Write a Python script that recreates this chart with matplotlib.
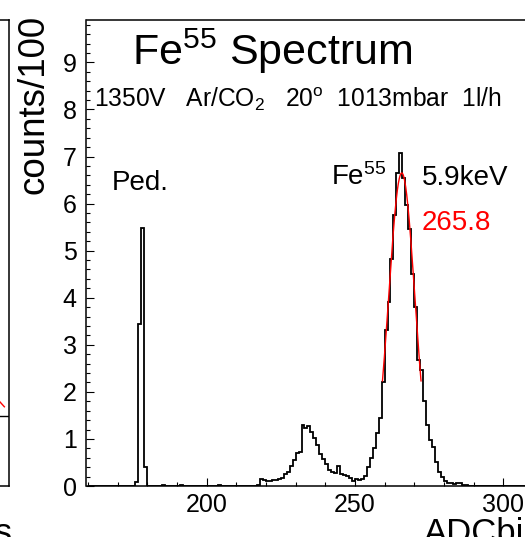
import numpy as np
import matplotlib
matplotlib.use("Agg")
import matplotlib.pyplot as plt
from matplotlib.ticker import MultipleLocator

plt.rcParams['font.family'] = ['Liberation Sans', 'DejaVu Sans']
plt.rcParams['mathtext.default'] = 'regular'

# Fe55 spectrum, counts/100 per ADC bin, bins start at 160
first_bin = 160
counts = (
    [0.0] * 16 +                                   # 160-175
    [0.09, 3.45, 5.49, 0.41] +                     # 176-179 pedestal
    [0.0] * 5 + [0.02] + [0.0] * 5 + [0.02] +      # 180-191
    [0.0] * 12 + [0.02] + [0.0] * 12 + [0.03] +    # 192-217
    [0.15, 0.13, 0.11, 0.11, 0.12, 0.13, 0.14, 0.18, 0.25, 0.30,   # 218-227
     0.42, 0.56, 0.71, 0.73, 1.29, 1.24, 1.27, 1.15, 1.03, 0.88,   # 228-237
     0.68, 0.57, 0.46, 0.34, 0.29, 0.27, 0.42, 0.25, 0.24, 0.22,   # 238-247
     0.17, 0.11, 0.15, 0.12, 0.15, 0.22, 0.40, 0.60, 0.80, 1.12,   # 248-257
     1.45, 2.22, 3.31, 3.91, 4.83, 5.75, 6.65, 7.08, 6.55, 5.97,   # 258-267
     5.47, 4.51, 3.81, 2.68, 2.46, 1.80, 1.30, 0.97, 0.82, 0.52,   # 268-277
     0.30, 0.20, 0.10, 0.07, 0.06, 0.05, 0.07, 0.06, 0.03, 0.02,   # 278-287
     0.01] +                                       # 288
    [0.0] * 31                                     # 289-319
)

# gaussian fit of the photo peak
fit_mean = 265.8
fit_amp = 6.65
fit_sigma = 4.4
fit_range = (259.3, 272.3)

# fragments of the neighbouring panel on the left
left_fit_x = [0.955, 0.985]
left_fit_y = [0.192, 0.170]
left_hist_x = [0.94, 1.0]
left_hist_y = [0.150, 0.150]

W, H = 525, 537
fig = plt.figure(figsize=(W / 100, H / 100), dpi=100)

ax_l, ax_r = 86.5, 561.0
ax_t, ax_b = 20.0, 486.0
ax = fig.add_axes([ax_l / W, 1 - ax_b / H, (ax_r - ax_l) / W, (ax_b - ax_t) / H])

edges = np.arange(first_bin, first_bin + len(counts) + 1)
ax.stairs(counts, edges, color='black', linewidth=1.3)

xf = np.linspace(fit_range[0], fit_range[1], 200)
yf = fit_amp * np.exp(-0.5 * ((xf - fit_mean) / fit_sigma) ** 2)
ax.plot(xf, yf, color='red', linewidth=1.0)

ax.set_xlim(159.5, 319.5)
ax.set_ylim(0, 9.9)
ax.xaxis.set_major_locator(MultipleLocator(50))
ax.xaxis.set_minor_locator(MultipleLocator(10))
ax.yaxis.set_major_locator(MultipleLocator(1))
ax.yaxis.set_minor_locator(MultipleLocator(0.2))
ax.tick_params(which='both', direction='in', width=0.8, labelsize=18)
ax.tick_params(which='major', length=5.8)
ax.tick_params(which='minor', length=2.9)
ax.tick_params(axis='x', pad=5)
ax.tick_params(axis='y', pad=7)
ax.tick_params(top=False, right=False, which='both')
for s in ax.spines.values():
    s.set_linewidth(1.1)

ax.text(174.7, 8.94, 'Fe$^{55}$ Spectrum', fontsize=31, va='baseline')
ax.text(162.0, 8.05, '1350V   Ar/CO$_2$   20$^o$  1013mbar  1l/h', fontsize=17.7, va='baseline')
ax.text(168.1, 6.28, 'Ped.', fontsize=20, va='baseline')
ax.text(242.1, 6.39, 'Fe$^{55}$', fontsize=20, va='baseline')
ax.text(272.5, 6.39, '5.9keV', fontsize=20, va='baseline')
ax.text(272.5, 5.44, '265.8', fontsize=20, va='baseline', color='red')

fig.text(ax_r / W, 1 - 543 / H, 'ADCbins', fontsize=25, ha='right', va='baseline')
fig.text(34 / W, 1 - 15 / H, 'counts/100', fontsize=26.5, rotation=90, ha='center', va='top')

# left neighbour panel, only its right edge is visible
axl = fig.add_axes([-300 / W, 1 - ax_b / H, 309 / W, (ax_b - ax_t) / H])
axl.plot(left_fit_x, left_fit_y, color='red', linewidth=1.0)
axl.plot(left_hist_x, left_hist_y, color='black', linewidth=1.0)
axl.set_xlim(0, 1)
axl.set_ylim(0, 1)
axl.set_xticks([])
axl.set_yticks([])
for s in axl.spines.values():
    s.set_linewidth(1.1)
fig.text(13 / W, 1 - 543 / H, 'ADCbins', fontsize=25, ha='right', va='baseline')

fig.savefig('out.png', dpi=100)
